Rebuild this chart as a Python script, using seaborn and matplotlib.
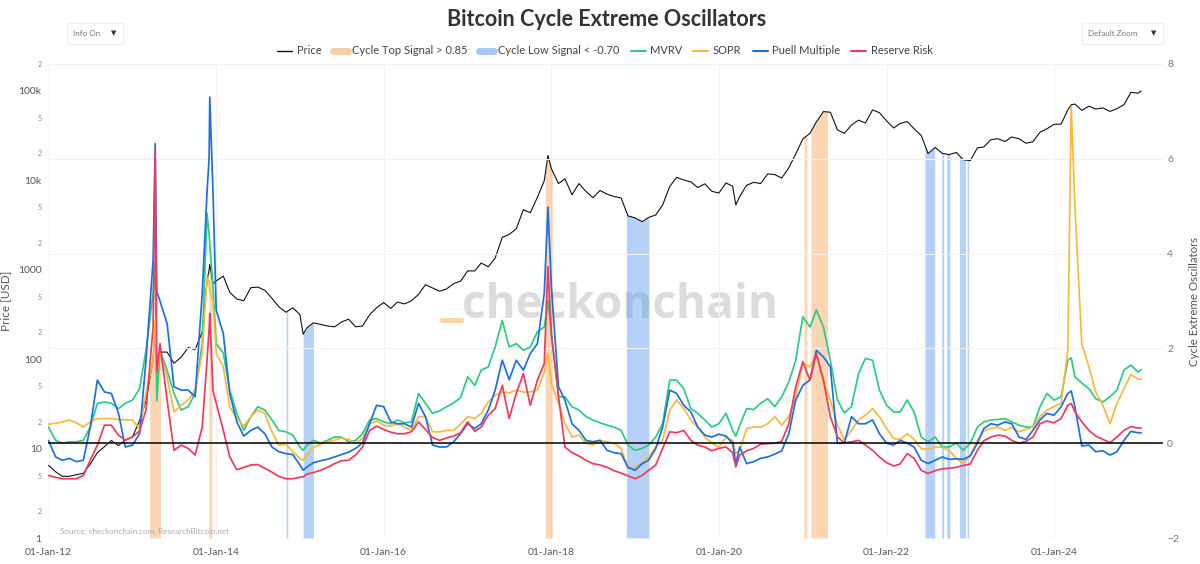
import numpy as np
import pandas as pd
import matplotlib
matplotlib.use("Agg")
import matplotlib.pyplot as plt
import matplotlib.dates as mdates
from matplotlib.lines import Line2D
from matplotlib.patches import Rectangle
import seaborn as sns

# ---------------- data (monthly samples, 1st of each month from Jan 2012) ----------------
START_MONTH = "2012-01-01"

price = [
    6.5, 5.5, 4.9, 4.9, 5.1, 5.3, 6.7, 9.0, 10.5, 12.3, 10.8, 12.5,                    # 2012
    13.5, 20.5, 34, 100, 120, 120, 90, 105, 135, 128, 200, 1000,                       # 2013
    750, 850, 560, 470, 450, 630, 640, 590, 480, 385, 335, 375,                        # 2014
    315, 225, 255, 245, 235, 230, 260, 280, 230, 235, 315, 375,                        # 2015
    430, 370, 435, 415, 450, 530, 680, 625, 575, 610, 700, 745,                        # 2016
    970, 970, 1190, 1080, 1350, 2300, 2480, 2870, 4700, 4340, 6450, 9900,              # 2017
    13500, 9200, 10400, 6900, 9200, 7500, 6400, 7700, 7000, 6600, 6350, 4000,          # 2018
    3800, 3450, 3850, 4100, 5300, 8550, 10800, 10100, 9600, 8300, 9150, 7550,          # 2019
    7200, 9350, 8600, 6600, 8800, 9500, 9200, 11800, 11600, 10600, 13800, 19700,       # 2020
    29000, 33500, 45000, 58800, 57700, 36700, 33500, 41500, 47100, 43800, 61300, 57000, # 2021
    46300, 38500, 43200, 45500, 37700, 31800, 19900, 23300, 20050, 19400, 20500, 17000, # 2022
    16600, 23100, 23600, 28500, 29200, 27200, 30500, 29200, 26000, 27000, 34600, 37700, # 2023
    42300, 42600, 61200, 71300, 60600, 67500, 62700, 64600, 59000, 63300, 70200, 96400, # 2024
    94400,                                                                              # 2025
]

mvrv = [
    0.34, 0.06, 0.00, 0.03, 0.03, 0.06, 0.34, 0.84, 0.87, 0.84, 0.73, 0.84,
    0.91, 1.15, 1.96, 3.16, 1.96, 1.54, 1.05, 0.70, 0.77, 1.05, 2.10, 4.40,
    2.10, 1.90, 1.12, 0.63, 0.27, 0.56, 0.77, 0.70, 0.49, 0.27, 0.24, 0.17,
    -0.08, -0.04, 0.06, 0.00, 0.06, 0.13, 0.13, 0.03, 0.06, 0.20, 0.49, 0.52,
    0.45, 0.41, 0.49, 0.43, 0.45, 1.05, 0.84, 0.63, 0.68, 0.77, 0.85, 0.96,
    1.40, 1.22, 1.54, 1.61, 2.03, 2.59, 2.03, 2.10, 1.96, 2.03, 2.35, 2.45,
    2.30, 0.98, 0.98, 0.77, 0.70, 0.56, 0.49, 0.43, 0.38, 0.34, 0.27, -0.04,
    -0.15, -0.11, -0.04, 0.13, 0.41, 1.33, 1.33, 1.15, 0.73, 0.63, 0.49, 0.34,
    0.41, 0.63, 0.27, 0.38, 0.73, 0.71, 0.84, 0.94, 0.77, 0.98, 1.29, 1.75,
    2.67, 2.45, 2.81, 2.45, 1.75, 0.91, 0.64, 0.77, 1.47, 1.79, 1.75, 1.12,
    0.80, 0.66, 0.66, 0.91, 0.66, 0.13, 0.03, 0.13, -0.08, -0.08, 0.00, -0.15,
    0.00, 0.34, 0.45, 0.49, 0.50, 0.52, 0.45, 0.38, 0.34, 0.34, 0.77, 1.05,
    0.91, 0.98, 1.75, 1.40, 1.27, 1.15, 0.94, 0.87, 0.98, 1.12, 1.54, 1.65,
    1.50,
]

sopr = [
    0.40, 0.42, 0.45, 0.49, 0.43, 0.34, 0.45, 0.52, 0.52, 0.52, 0.50, 0.49,
    0.49, 0.31, 1.05, 1.75, 1.90, 1.40, 0.66, 0.80, 0.91, 1.12, 1.90, 3.40,
    1.90, 1.61, 0.77, 0.52, 0.36, 0.56, 0.70, 0.63, 0.24, -0.04, -0.02, -0.18,
    -0.32, -0.25, -0.09, -0.02, 0.03, 0.06, 0.11, 0.08, 0.00, 0.10, 0.41, 0.47,
    0.38, 0.36, 0.41, 0.34, 0.27, 0.56, 0.56, 0.24, 0.24, 0.27, 0.27, 0.40,
    0.56, 0.52, 0.63, 0.87, 1.01, 1.08, 1.06, 1.12, 1.08, 1.08, 1.12, 1.50,
    1.26, 0.84, 0.41, 0.13, 0.17, 0.00, -0.04, 0.06, 0.03, 0.00, -0.11, -0.53,
    -0.50, -0.41, -0.29, -0.08, 0.06, 0.70, 0.91, 0.73, 0.49, 0.34, 0.13, 0.00,
    -0.08, 0.13, 0.06, -0.15, 0.31, 0.34, 0.34, 0.41, 0.56, 0.38, 0.56, 0.98,
    1.68, 1.61, 1.89, 1.29, 0.91, 0.38, 0.08, 0.27, 0.49, 0.59, 0.73, 0.56,
    0.31, 0.10, 0.08, 0.20, 0.08, -0.11, -0.13, -0.08, -0.09, -0.15, -0.32, -0.43,
    -0.25, 0.06, 0.26, 0.31, 0.34, 0.27, 0.33, 0.24, 0.29, 0.34, 0.56, 0.70,
    0.77, 0.84, 1.96, 5.00, 2.10, 1.61, 1.08, 0.80, 0.41, 0.84, 1.15, 1.45,
    1.35,
]

puell = [
    0.06, -0.29, -0.36, -0.32, -0.39, -0.36, 0.34, 1.33, 1.08, 1.05, 0.63, -0.08,
    -0.04, 0.20, 1.75, 3.86, 3.00, 2.52, 1.19, 1.12, 1.12, 0.98, 3.16, 6.00,
    2.81, 2.31, 1.05, 0.45, 0.15, 0.27, 0.34, 0.20, -0.08, -0.18, -0.22, -0.24,
    -0.46, -0.50, -0.41, -0.37, -0.34, -0.29, -0.24, -0.19, -0.11, 0.01, 0.41, 0.80,
    0.77, 0.45, 0.41, 0.41, 0.34, 0.84, 0.56, -0.04, -0.08, -0.08, 0.03, 0.20,
    0.41, 0.31, 0.41, 0.70, 1.12, 1.75, 1.34, 1.75, 1.54, 1.89, 2.10, 3.16,
    3.30, 1.19, 0.91, 0.41, 0.27, 0.06, 0.03, 0.06, -0.15, -0.20, -0.22, -0.51,
    -0.57, -0.43, -0.36, -0.11, 0.34, 1.12, 1.05, 0.80, 0.66, 0.34, 0.17, 0.13,
    0.19, 0.15, 0.00, -0.08, -0.43, -0.39, -0.32, -0.29, -0.23, -0.16, 0.20, 0.91,
    1.22, 1.33, 1.96, 1.82, 1.61, 0.00, 0.00, 0.56, 0.41, 0.41, 0.49, 0.20,
    0.00, -0.04, 0.06, 0.00, -0.08, -0.36, -0.43, -0.36, -0.29, -0.34, -0.33, -0.34,
    -0.27, 0.00, 0.31, 0.41, 0.38, 0.45, 0.41, 0.13, 0.08, 0.27, 0.49, 0.63,
    0.59, 0.77, 1.05, 0.77, -0.06, -0.04, -0.18, -0.16, -0.25, -0.18, 0.06, 0.25,
    0.22,
]

reserve_risk = [
    -0.68, -0.72, -0.75, -0.75, -0.75, -0.68, -0.36, -0.04, 0.38, 0.38, 0.17, 0.06,
    0.13, 0.26, 0.70, 2.45, 2.10, 0.91, -0.15, -0.04, -0.11, -0.25, 0.34, 2.40,
    0.84, 0.27, -0.29, -0.56, -0.51, -0.46, -0.45, -0.53, -0.61, -0.70, -0.75, -0.75,
    -0.72, -0.65, -0.62, -0.57, -0.51, -0.43, -0.37, -0.36, -0.25, -0.08, 0.27, 0.36,
    0.29, 0.23, 0.20, 0.20, 0.24, 0.45, 0.29, 0.12, 0.06, 0.11, 0.15, 0.22,
    0.45, 0.25, 0.34, 0.59, 0.73, 1.22, 0.52, 1.05, 1.47, 0.80, 1.33, 1.68,
    2.31, 1.00, -0.08, -0.20, -0.27, -0.36, -0.43, -0.46, -0.51, -0.58, -0.63, -0.69,
    -0.75, -0.68, -0.57, -0.46, -0.11, 0.24, 0.22, 0.27, 0.06, -0.04, -0.08, -0.16,
    -0.11, -0.08, -0.20, -0.25, -0.16, -0.11, -0.02, -0.01, 0.00, 0.04, 0.41, 1.19,
    1.72, 1.33, 1.89, 1.33, 0.56, 0.13, 0.01, 0.03, 0.06, -0.04, -0.15, -0.29,
    -0.41, -0.48, -0.44, -0.22, -0.32, -0.57, -0.64, -0.58, -0.54, -0.53, -0.51, -0.47,
    -0.44, -0.15, 0.05, 0.13, 0.17, 0.15, 0.06, 0.00, 0.04, 0.13, 0.41, 0.47,
    0.43, 0.52, 0.80, 0.66, 0.45, 0.27, 0.15, 0.08, 0.01, 0.13, 0.27, 0.35,
    0.32,
]

# extra samples at the spikes / crashes between the monthly points
extra_dates = ["2013-04-10", "2013-04-17", "2013-11-22", "2013-12-04", "2013-12-18",
               "2015-01-15", "2017-12-17", "2020-03-15", "2024-03-16", "2025-01-15"]
extra_price = [230, 95, 750, 1150, 700, 190, 19000, 5300, 70000, 100000]
extra_mvrv = [3.80, 0.90, 4.85, 4.20, 3.30, -0.15, 3.00, 0.15, 1.80, 1.55]
extra_sopr = [2.60, 1.50, 3.50, 3.20, 3.00, -0.36, 1.90, -0.22, 7.10, 1.35]
extra_puell = [6.32, 3.20, 5.30, 7.30, 5.30, -0.57, 4.98, -0.43, 1.10, 0.22]
extra_rr = [6.18, 1.50, 1.75, 2.74, 1.10, -0.71, 3.72, -0.50, 0.84, 0.32]

# signal periods
top_starts = ["2013-03-17", "2013-11-30", "2017-12-05", "2021-01-06", "2021-02-05"]
top_ends = ["2013-05-03", "2013-12-13", "2018-01-05", "2021-01-19", "2021-04-19"]
low_starts = ["2014-11-02", "2015-01-15", "2018-11-24", "2022-06-17", "2022-08-29",
              "2022-09-20", "2022-11-15", "2022-12-18"]
low_ends = ["2014-11-09", "2015-03-01", "2019-03-02", "2022-07-30", "2022-09-07",
            "2022-10-04", "2022-12-11", "2022-12-25"]

left_tick_vals = [1, 10, 100, 1000, 10000, 100000]
left_tick_text = ["1", "10", "100", "1000", "10k", "100k"]
right_tick_vals = [-2, 0, 2, 4, 6, 8]

legend_labels = ["Price", "Cycle Top Signal > 0.85", "Cycle Low Signal < -0.70",
                 "MVRV", "SOPR", "Puell Multiple", "Reserve Risk"]

# ---------------- styling ----------------
C_PRICE = "#111111"
C_TOP = "#F5A65B"
C_LOW = "#5B9BF0"
BAND_ALPHA = 0.45
C_MVRV = "#2DCB80"
C_SOPR = "#F6B940"
C_PUELL = "#1F6FE0"
C_RR = "#EE3A5F"

months = pd.date_range(START_MONTH, periods=len(price), freq="MS")
df = pd.DataFrame({
    "date": list(months) + list(pd.to_datetime(extra_dates)),
    "price": price + extra_price,
    "mvrv": mvrv + extra_mvrv,
    "sopr": sopr + extra_sopr,
    "puell": puell + extra_puell,
    "rr": reserve_risk + extra_rr,
}).sort_values("date").reset_index(drop=True)

sns.set_theme(style="white")
plt.rcParams["font.family"] = ["Lato", "DejaVu Sans"]

W_PX, H_PX = 1200, 564
fig = plt.figure(figsize=(W_PX / 100, H_PX / 100), dpi=100, facecolor="white")


def fx(x):
    return x / W_PX


def fy(y):
    return 1 - y / H_PX


L, R, T, B = 48.5, 1163, 64, 538
ax = fig.add_axes([fx(L), fy(B), fx(R) - fx(L), fy(T) - fy(B)])
ax.patch.set_visible(False)

ax.set_yscale("log")
sns.lineplot(data=df, x="date", y="price", ax=ax, color=C_PRICE, linewidth=0.8,
             estimator=None, zorder=3, legend=False)

# signal bands: filled from the axis bottom up to the price curve
xnum = mdates.date2num(df["date"])
logp = np.log10(df["price"].to_numpy())


def draw_bands(starts, ends, color):
    for s, e in zip(starts, ends):
        s_n = mdates.date2num(pd.Timestamp(s))
        e_n = mdates.date2num(pd.Timestamp(e))
        inside = (xnum > s_n) & (xnum < e_n)
        xs = np.concatenate([[s_n], xnum[inside], [e_n]])
        ys = 10 ** np.interp(xs, xnum, logp)
        ax.fill_between(mdates.num2date(xs), 1, ys, color=color, alpha=BAND_ALPHA,
                        linewidth=0, zorder=1)


draw_bands(top_starts, top_ends, C_TOP)
draw_bands(low_starts, low_ends, C_LOW)

ax2 = ax.twinx()
ax2.patch.set_visible(False)
for col, c in [("mvrv", C_MVRV), ("sopr", C_SOPR), ("puell", C_PUELL), ("rr", C_RR)]:
    sns.lineplot(data=df, x="date", y=col, ax=ax2, color=c, linewidth=1.25,
                 estimator=None, zorder=3, legend=False)
ax2.axhline(0, color="black", linewidth=1.1, zorder=5)

# axes ranges
ax.set_xlim(pd.Timestamp("2012-01-01"), pd.Timestamp("2025-04-20"))
ax.set_ylim(1, 2e5)
ax2.set_ylim(-2, 8)

for a in (ax, ax2):
    for sp in a.spines.values():
        sp.set_visible(False)

# ticks
ax.xaxis.set_major_locator(mdates.YearLocator(2, month=1, day=1))
ax.xaxis.set_major_formatter(mdates.DateFormatter("%d-%b-%y"))
ax.tick_params(axis="x", length=0, pad=7, labelsize=7.5, labelcolor="#555555")

ax.set_yticks(left_tick_vals)
ax.set_yticklabels(left_tick_text)
minor_vals, minor_text = [], []
for dec in [1, 10, 100, 1000, 10000, 100000]:
    for m in (2, 5):
        if dec * m <= 2e5:
            minor_vals.append(dec * m)
            minor_text.append(str(m))
ax.set_yticks(minor_vals, minor=True)
ax.set_yticklabels(minor_text, minor=True)
ax.tick_params(axis="y", which="major", length=0, pad=5, labelsize=7.5, labelcolor="#555555")
ax.tick_params(axis="y", which="minor", length=0, pad=5, labelsize=5, labelcolor="#888888")

ax2.set_yticks(right_tick_vals)
ax2.tick_params(axis="y", length=0, pad=3, labelsize=7.5, labelcolor="#777777")

# grid
ax.grid(False)
ax.grid(axis="x", color="#f1f1f1", linewidth=0.8)
ax2.grid(axis="y", color="#f1f1f1", linewidth=0.8)
ax2.set_axisbelow(True)

ax.set_xlabel("")
ax.set_ylabel("Price [USD]", fontsize=8.5, color="#555555")
ax.yaxis.set_label_coords((10.7 - L) / (R - L), 0.5)
ax2.set_ylabel("Cycle Extreme Oscillators", fontsize=8.3, color="#555555")
ax2.yaxis.set_label_coords((1189 - L) / (R - L), 0.5)

# title
fig.text(fx(607), fy(20), "Bitcoin Cycle Extreme Oscillators", ha="center", va="center",
         fontsize=15.5, fontweight="bold", color="#333333")

# legend
handles = [
    Line2D([], [], color=C_PRICE, lw=1.0),
    Line2D([], [], color=C_TOP, alpha=BAND_ALPHA + 0.1, lw=5),
    Line2D([], [], color=C_LOW, alpha=BAND_ALPHA + 0.1, lw=5),
    Line2D([], [], color=C_MVRV, lw=1.5),
    Line2D([], [], color=C_SOPR, lw=1.5),
    Line2D([], [], color=C_PUELL, lw=1.5),
    Line2D([], [], color=C_RR, lw=1.5),
]
fig.legend(handles, legend_labels, loc="center", bbox_to_anchor=(fx(605), fy(51)),
           ncol=7, frameon=False, fontsize=8.0, handlelength=1.35, handletextpad=0.4,
           columnspacing=1.0, labelcolor="#444444")

# watermark (behind the chart)
fig.text(fx(620), fy(318), "checkonchain", ha="center", va="baseline", fontsize=33,
         fontweight="bold", color="#dcdcdc", family=["Open Sans", "DejaVu Sans"], zorder=-1)
fig.add_artist(Line2D([fx(440), fx(463)], [fy(320), fy(320)], transform=fig.transFigure,
                      color="#F9D3A8", lw=3.5, solid_capstyle="butt", zorder=-1))

# source note
fig.text(fx(60), fy(531), "Source: checkonchain.com, ResearchBitcoin.net", ha="left",
         va="center", fontsize=5.8, color="#aaaaaa")

# dropdown boxes
for (x0, x1, label, arrow_x) in [(67, 123, "Info On", 114), (1082, 1163, "Default Zoom", 1154)]:
    fig.add_artist(Rectangle((fx(x0), fy(44)), fx(x1) - fx(x0), fy(23) - fy(44),
                             transform=fig.transFigure, facecolor="white",
                             edgecolor="#eeeeee", linewidth=0.8, zorder=-1))
    fig.text(fx(x0 + 6), fy(33.5), label, ha="left", va="center", fontsize=5.8, color="#777777")
    fig.text(fx(arrow_x), fy(33.5), "\u25BC", ha="center", va="center", fontsize=5,
             color="#333333", family=["DejaVu Sans"])

fig.savefig("out.png", dpi=100, facecolor="white")
